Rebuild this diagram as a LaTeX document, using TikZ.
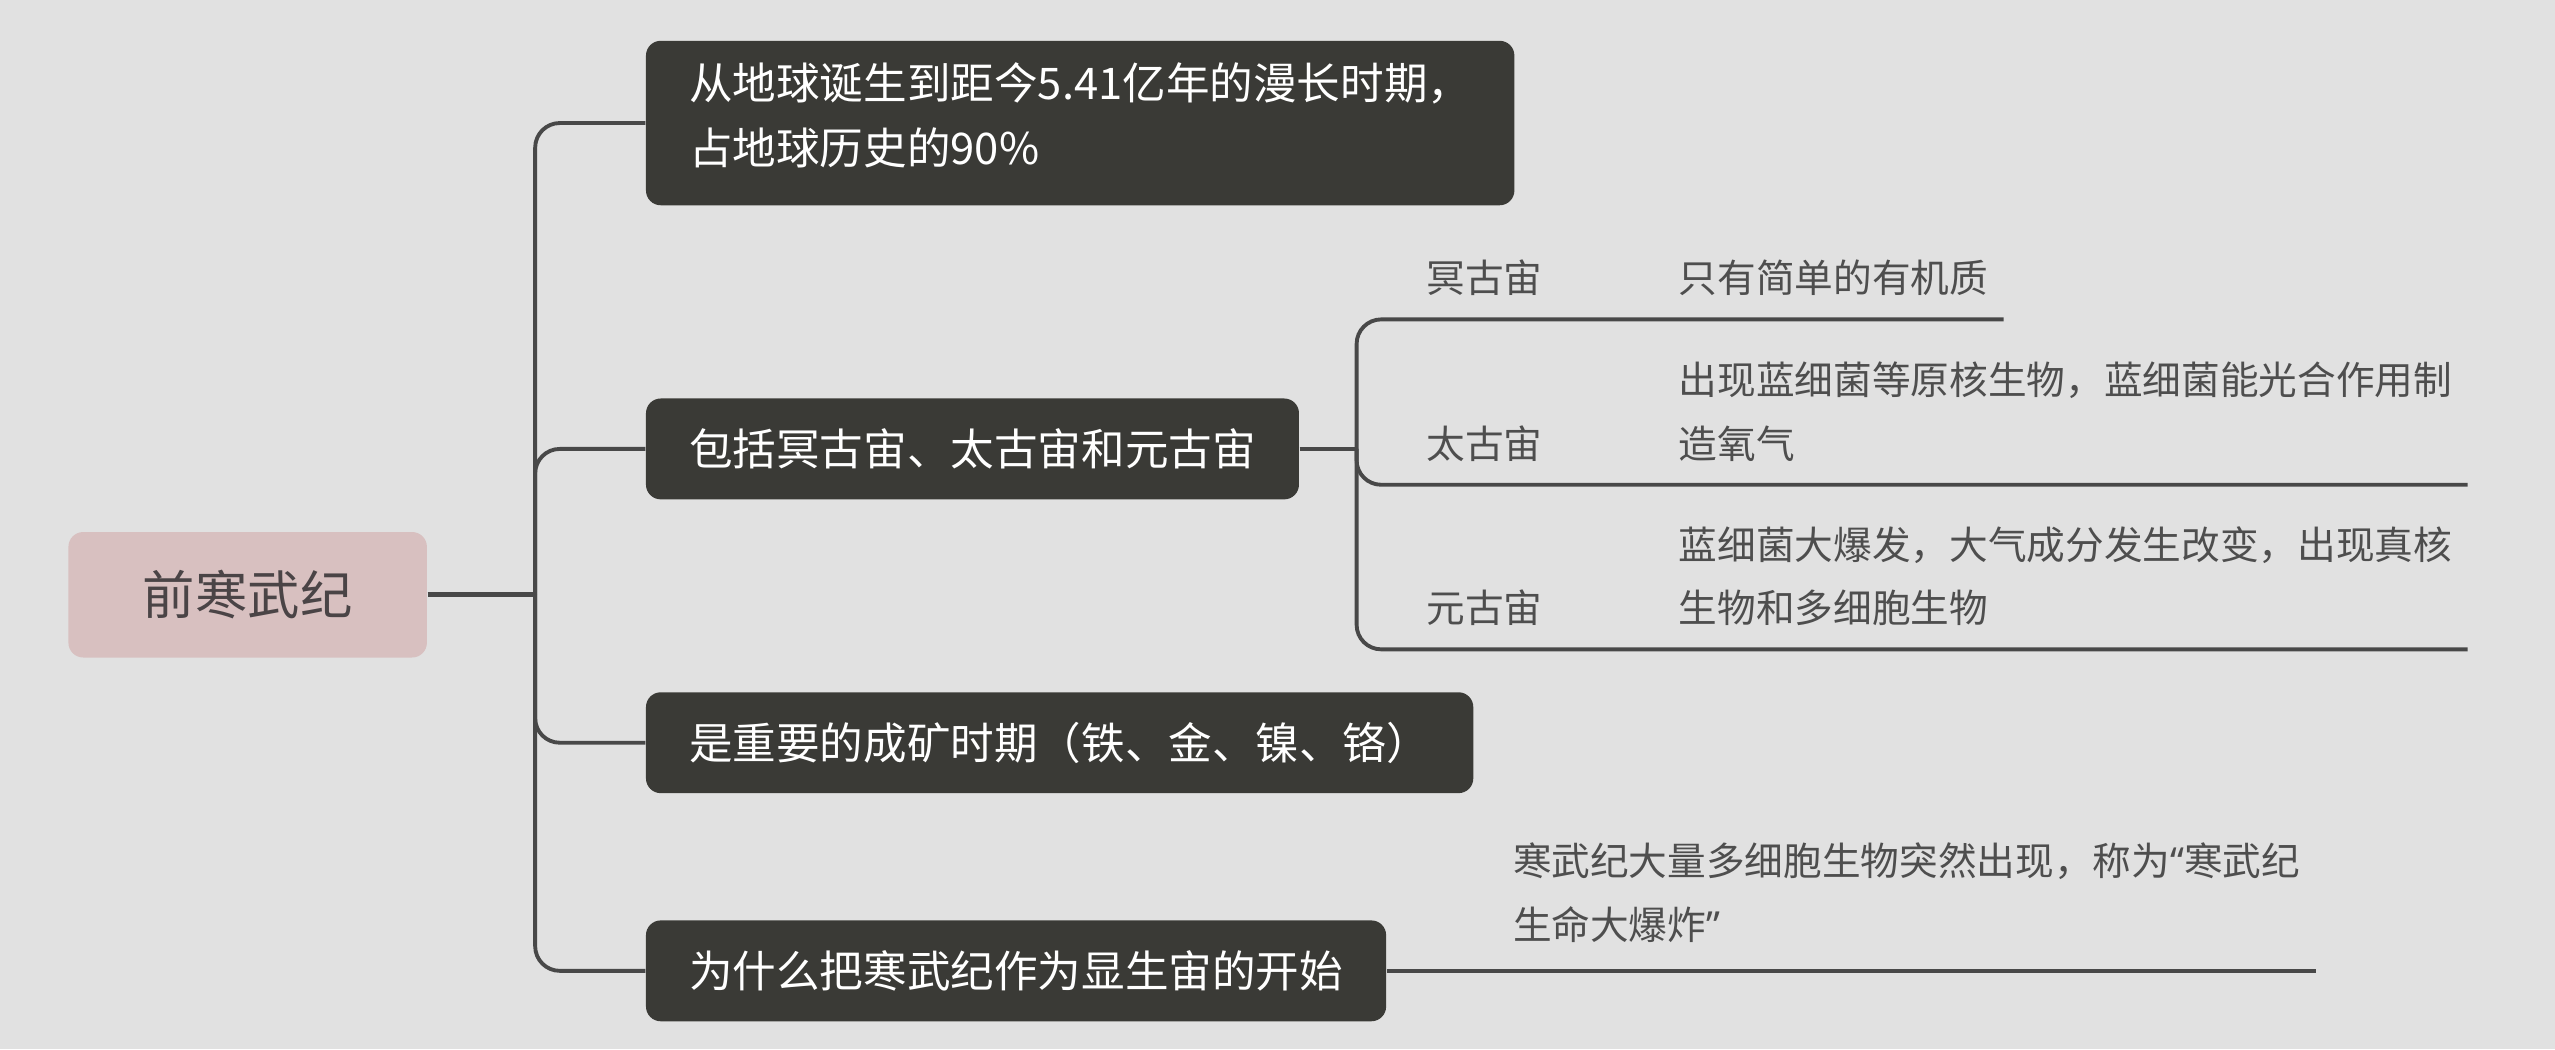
\documentclass[tikz,border=0pt]{standalone}
\usepackage{fontspec}
\newfontfamily\cjk{Noto Sans CJK SC}
\newfontfamily\quotefont{Noto Sans}
\usepackage{xcolor}
\usetikzlibrary{positioning}
\definecolor{canvas}{HTML}{E1E1E1}
\definecolor{topicfill}{HTML}{3A3A36}
\definecolor{rootfill}{HTML}{D8C0C0}
\definecolor{roottext}{HTML}{4A4446}
\definecolor{linegray}{HTML}{484848}
\definecolor{textgray}{HTML}{4E4E4E}

\begin{document}
\begin{tikzpicture}[
			x=0.46364pt, y=-0.46364pt,
			node distance=30pt,
			root_node/.style={
				rectangle,
				rounded corners=4.2pt,
				fill=rootfill,
				text=roottext,
				minimum width=102pt,
				minimum height=35.7pt,
				font=\cjk\fontsize{14.9}{18}\selectfont
			},
			topic_node/.style={
				rectangle,
				rounded corners=4.2pt,
				fill=topicfill,
				text=white,
				anchor=west,
				align=left,
				inner xsep=12.3pt,
				minimum height=28.7pt,
				font=\cjk\fontsize{12.4}{18.5}\selectfont
			},
			under_node/.style={
				inner xsep=4.2pt,
				inner ysep=0pt,
				text depth=7.4pt,
				anchor=south west,
				align=left,
				text=textgray,
				font=\cjk\fontsize{11}{18.1}\selectfont
			},
			line/.style={
				draw=linegray,
				line width=1.1pt,
				rounded corners=7pt
			}
			]
			
			\fill[canvas] (0,0) rectangle (1568,644);
			
			% Root
			
			\node [root_node] (root) at (152,365) {前寒武纪};
			\coordinate [right=30.6pt of root.east] (hub);
			
			% Topics
			
			\node [topic_node, minimum height=46.8pt, text depth=5.2pt] (span) at (396,75.5) {从地球诞生到距今5.41亿年的漫长时期，\\占地球历史的90\%};
			\node [topic_node] (eons) at (396,275.5) {包括冥古宙、太古宙和元古宙};
			\node [topic_node] (ores) at (396,455.8) {是重要的成矿时期（铁、金、镍、铬）};
			\node [topic_node] (why) at (396,595.8) {为什么把寒武纪作为显生宙的开始};
			
			% Eons
			
			\coordinate [right=16.2pt of eons.east] (eon_hub);
			
			\node [under_node] (hadean) at (866,196) {冥古宙};
			\node [under_node] (archean) at (866,297.5) {太古宙};
			\node [under_node] (proterozoic) at (866,398.5) {元古宙};
			
			\node [under_node, right=of hadean.south east, anchor=south west] (hadean_desc) {只有简单的有机质};
			\node [under_node, right=of archean.south east, anchor=south west] (archean_desc) {出现蓝细菌等原核生物，蓝细菌能光合作用制\\造氧气};
			\node [under_node, right=of proterozoic.south east, anchor=south west] (proterozoic_desc) {蓝细菌大爆发，大气成分发生改变，出现真核\\生物和多细胞生物};
			
			\node [under_node, right=31.5pt of why.east, anchor=south west, text depth=8.7pt] (why_desc) {寒武纪大量多细胞生物突然出现，称为{\quotefont “}寒武纪\\生命大爆炸{\quotefont ”}};
			
			% Connections
			
			\draw [line, line width=1.4pt] (root.east) -- (hub);
			\foreach \topic in {span, eons, ores, why}
				\draw [line] (hub) |- (\topic.west);
			
			\draw [line] (eons.east) -- (eon_hub);
			\foreach \eon in {hadean, archean, proterozoic}
				\draw [line] (eon_hub) |- (\eon.south west) -- (\eon_desc.south east);
			
			\draw [line] (why.east) -- (why_desc.south west) -- (why_desc.south east);
			
		\end{tikzpicture}
\end{document}
